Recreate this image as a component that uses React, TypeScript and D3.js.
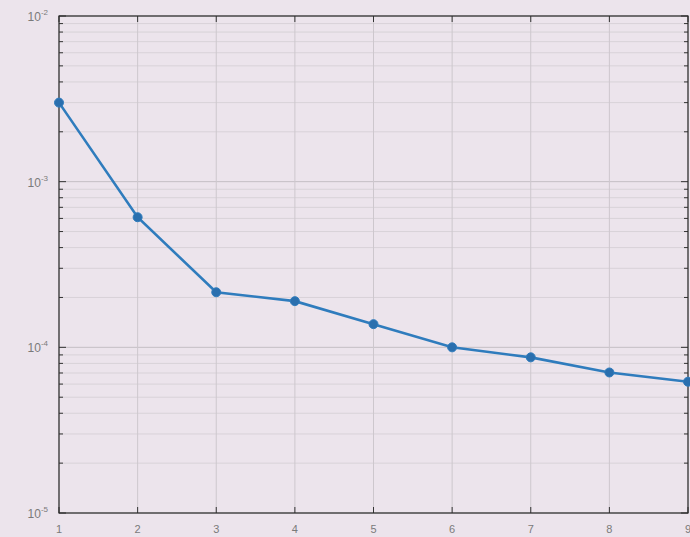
import React, { useRef, useEffect } from "react";
import * as d3 from "d3";

const iterations = [1, 2, 3, 4, 5, 6, 7, 8, 9];
const errors = [3.0e-3, 6.1e-4, 2.15e-4, 1.9e-4, 1.38e-4, 1.0e-4, 8.7e-5, 7.05e-5, 6.2e-5];
const yDecades = [-5, -4, -3, -2];

const W = 690;
const H = 537;
const margin = { top: 16, right: 2, bottom: 24, left: 59 };

const App = () => {
    const svgRef = useRef<SVGSVGElement>(null);

    useEffect(() => {
        const svg = d3.select(svgRef.current);
        svg.selectAll("*").remove();

        const x = d3.scaleLinear().domain([1, 9]).range([margin.left, W - margin.right]);
        const y = d3.scaleLog().domain([1e-5, 1e-2]).range([H - margin.bottom, margin.top]);

        // background
        svg.append("rect").attr("width", W).attr("height", H).attr("fill", "#ece4ec");

        const minor: number[] = [];
        yDecades.slice(0, -1).forEach(e => {
            for (let k = 2; k <= 9; k++) minor.push(k * Math.pow(10, e));
        });

        // minor grid
        svg.append("g").selectAll("line").data(minor).enter().append("line")
            .attr("x1", margin.left).attr("x2", W - margin.right)
            .attr("y1", d => y(d)).attr("y2", d => y(d))
            .attr("stroke", "#d8d2d8").attr("stroke-width", 1);

        // major grid
        svg.append("g").selectAll("line").data(yDecades).enter().append("line")
            .attr("x1", margin.left).attr("x2", W - margin.right)
            .attr("y1", d => y(Math.pow(10, d))).attr("y2", d => y(Math.pow(10, d)))
            .attr("stroke", "#c4bec4").attr("stroke-width", 1);

        svg.append("g").selectAll("line").data(iterations).enter().append("line")
            .attr("x1", d => x(d)).attr("x2", d => x(d))
            .attr("y1", margin.top).attr("y2", H - margin.bottom)
            .attr("stroke", "#cdc7cd").attr("stroke-width", 1);

        // ticks (inward)
        const tk = svg.append("g").attr("stroke", "#333");
        [margin.left, W - margin.right].forEach((x0, i) => {
            const dir = i === 0 ? 1 : -1;
            tk.selectAll(null).data(minor).enter().append("line")
                .attr("x1", x0).attr("x2", x0 + dir * 4)
                .attr("y1", d => y(d)).attr("y2", d => y(d));
            tk.selectAll(null).data(yDecades).enter().append("line")
                .attr("x1", x0).attr("x2", x0 + dir * 7)
                .attr("y1", d => y(Math.pow(10, d))).attr("y2", d => y(Math.pow(10, d)));
        });
        [margin.top, H - margin.bottom].forEach((y0, i) => {
            const dir = i === 0 ? 1 : -1;
            tk.selectAll(null).data(iterations).enter().append("line")
                .attr("x1", d => x(d)).attr("x2", d => x(d))
                .attr("y1", y0).attr("y2", y0 + dir * 6);
        });

        // box
        svg.append("rect")
            .attr("x", margin.left).attr("y", margin.top)
            .attr("width", W - margin.left - margin.right)
            .attr("height", H - margin.top - margin.bottom)
            .attr("fill", "none").attr("stroke", "#2a2a2a").attr("stroke-width", 1.2);

        // tick labels
        svg.append("g").selectAll("text").data(iterations).enter().append("text")
            .attr("x", d => x(d)).attr("y", H - margin.bottom + 20)
            .attr("text-anchor", "middle")
            .style("font-family", "Liberation Sans, Arial, sans-serif")
            .style("font-size", "11px").attr("fill", "#7a7a7a")
            .text(d => d);

        const yl = svg.append("g").selectAll("text").data(yDecades).enter().append("text")
            .attr("x", margin.left - 11).attr("y", d => y(Math.pow(10, d)) + 5)
            .attr("text-anchor", "end")
            .style("font-family", "Liberation Sans, Arial, sans-serif")
            .style("font-size", "12px").attr("fill", "#7a7a7a");
        yl.append("tspan").text("10");
        yl.append("tspan").attr("dy", -6).style("font-size", "8px").text(d => String(d));

        // series
        const line = d3.line<number>().x((_, i) => x(iterations[i])).y(d => y(d));
        svg.append("path").datum(errors)
            .attr("d", line)
            .attr("fill", "none").attr("stroke", "#2f7cbd").attr("stroke-width", 2.6);
        svg.append("g").selectAll("circle").data(errors).enter().append("circle")
            .attr("cx", (_, i) => x(iterations[i])).attr("cy", d => y(d))
            .attr("r", 4.5).attr("fill", "#2a6fae").attr("stroke", "#2f7cbd").attr("stroke-width", 1);
    }, []);

    return (
        <svg ref={svgRef} width={W} height={H}
            style={{ position: "absolute", left: 0, top: 0, display: "block" }} />
    );
};

export default App;
